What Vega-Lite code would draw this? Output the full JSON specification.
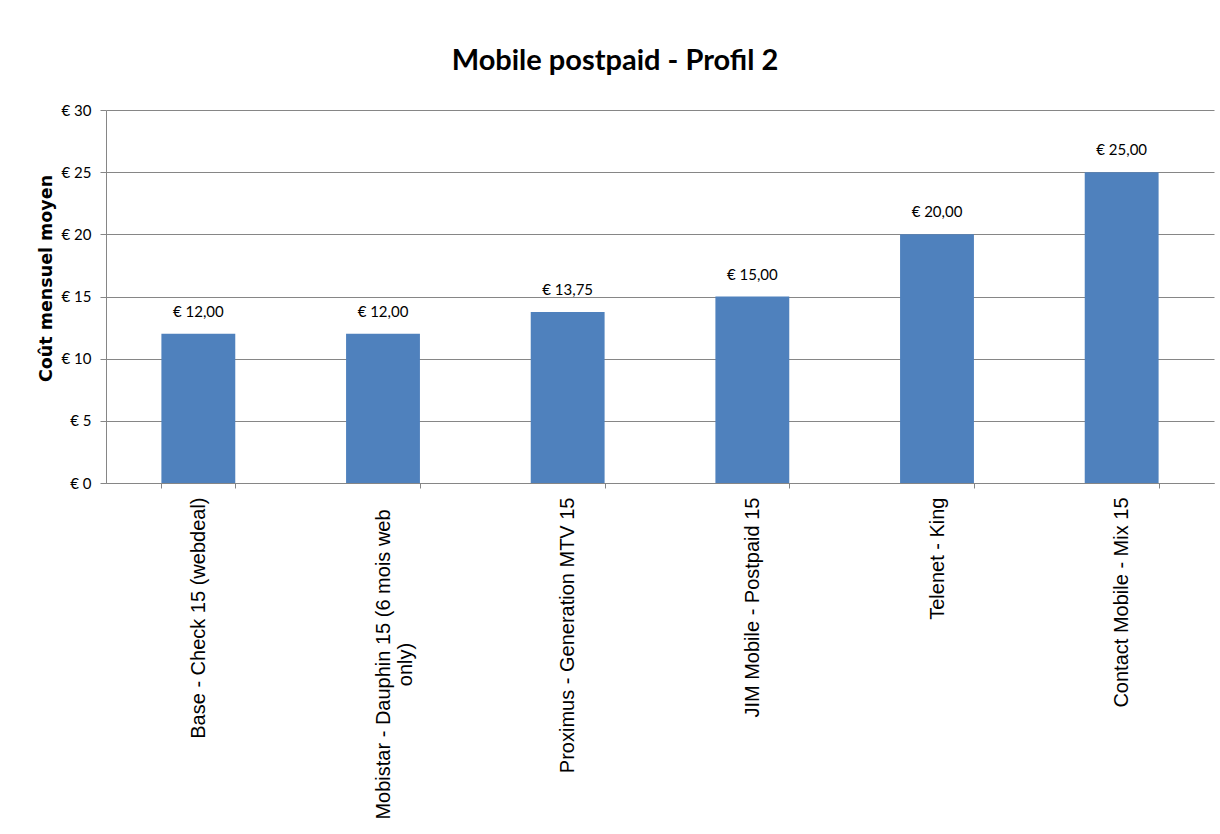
{
  "$schema": "https://vega.github.io/schema/vega-lite/v6.json",
  "autosize": "none",
  "width": 1108,
  "height": 373,
  "padding": {"left": 106, "top": 110, "right": 6, "bottom": 351},
  "background": "white",
  "config": {
    "locale": {"number": {"decimal": ",", "thousands": ".", "grouping": [3], "currency": ["€ ", ""]}},
    "view": {"stroke": null}
  },
  "title": {
    "text": "Mobile postpaid - Profil 2",
    "font": "Lato",
    "fontSize": 29,
    "fontWeight": "bold",
    "color": "#000000",
    "anchor": "middle",
    "dx": -45,
    "offset": 27
  },
  "data": {
    "values": [
      {"offre": "Base - Check 15 (webdeal)", "cout": 12},
      {"offre": "Mobistar - Dauphin 15 (6 mois web only)", "cout": 12},
      {"offre": "Proximus - Generation MTV 15", "cout": 13.75},
      {"offre": "JIM Mobile - Postpaid 15", "cout": 15},
      {"offre": "Telenet - King", "cout": 20},
      {"offre": "Contact Mobile - Mix 15", "cout": 25}
    ]
  },
  "encoding": {
    "x": {
      "field": "offre",
      "type": "nominal",
      "sort": null,
      "scale": {"paddingInner": 0.6, "paddingOuter": 0.3},
      "axis": {
        "title": null,
        "labelAngle": -90,
        "labelFont": "Liberation Sans",
        "labelFontSize": 20,
        "labelColor": "#000000",
        "labelAlign": {"condition": {"test": "datum.value == 'Mobistar - Dauphin 15 (6 mois web only)'", "value": "center"}, "value": "right"},
        "labelPadding": {"condition": {"test": "datum.value == 'Mobistar - Dauphin 15 (6 mois web only)'", "value": 176}, "value": 9},
        "labelLimit": 500,
        "labelLineHeight": 22,
        "labelExpr": "datum.value == 'Mobistar - Dauphin 15 (6 mois web only)' ? ['Mobistar - Dauphin 15 (6 mois web', 'only)'] : datum.label",
        "tickBand": "extent",
        "tickSize": 5,
        "tickColor": "#868686",
        "domainColor": "#868686",
        "grid": false
      }
    },
    "y": {
      "field": "cout",
      "type": "quantitative",
      "scale": {"domain": [0, 30], "nice": false},
      "axis": {
        "title": "Coût mensuel moyen",
        "titleFont": "DejaVu Sans",
        "titleFontSize": 17.5,
        "titleFontWeight": "bold",
        "titleColor": "#000000",
        "titleX": -60,
        "titleY": 168,
        "titleAlign": "center",
        "titleBaseline": "middle",
        "titleAngle": 270,
        "values": [0, 5, 10, 15, 20, 25, 30],
        "format": "$d",
        "labelFont": "Lato",
        "labelFontSize": 15,
        "labelColor": "#000000",
        "labelPadding": 9,
        "tickSize": 6,
        "tickColor": "#868686",
        "domainColor": "#868686",
        "grid": true,
        "gridColor": "#868686"
      }
    }
  },
  "layer": [
    {"mark": {"type": "bar", "color": "#4F81BD"}},
    {
      "mark": {"type": "text", "font": "Lato", "fontSize": 15, "color": "#000000", "baseline": "alphabetic", "dy": -17},
      "encoding": {"text": {"field": "cout", "type": "quantitative", "format": "$.2f"}}
    }
  ]
}
